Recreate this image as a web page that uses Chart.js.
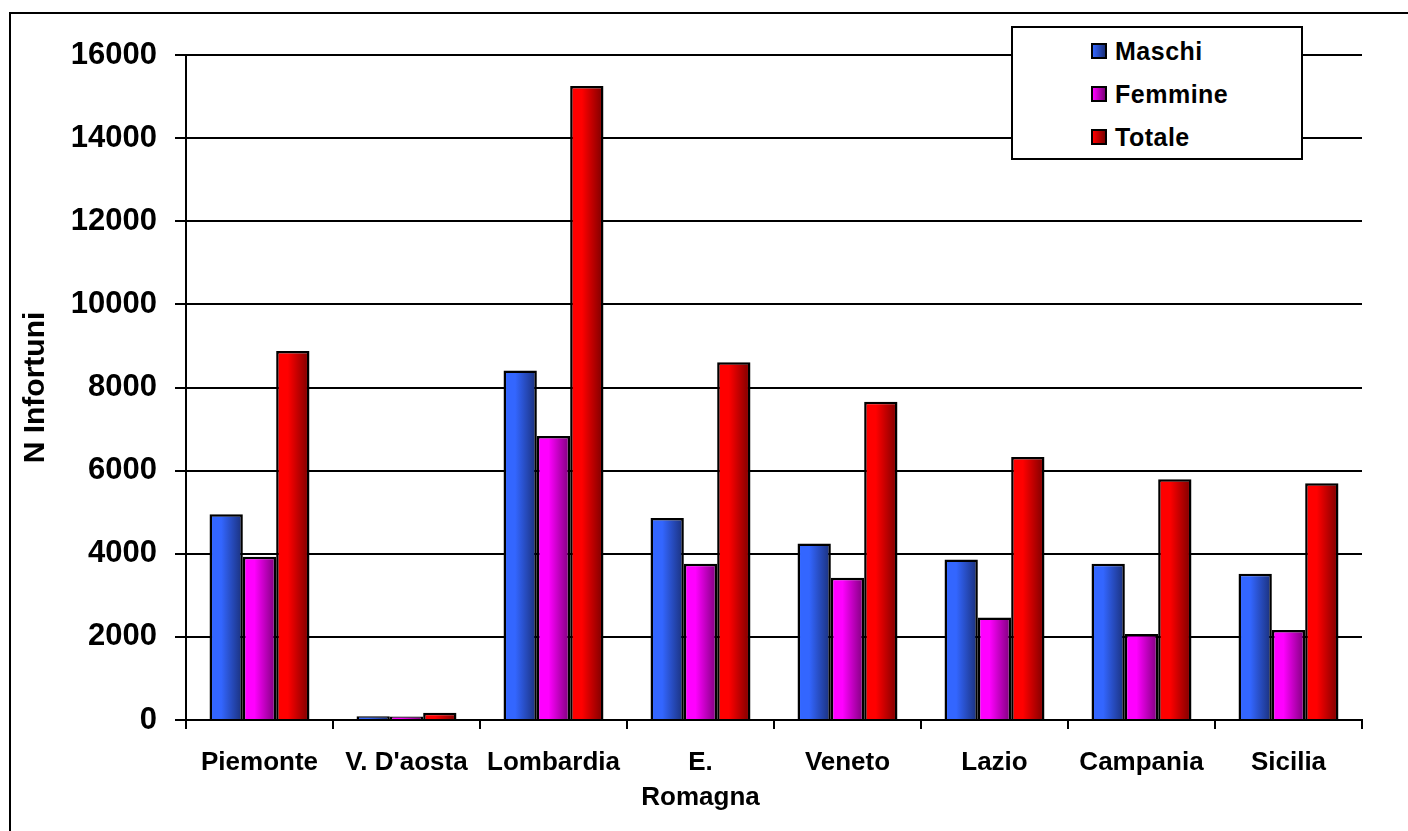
<!DOCTYPE html>
<html>
<head>
<meta charset="utf-8">
<script src="https://cdn.jsdelivr.net/npm/chart.js@4/dist/chart.umd.min.js"></script>
<style>
    html, body { margin: 0; padding: 0; background: #fff; overflow: hidden; }
    #wrap { position: relative; width: 1408px; height: 831px; }
    #frame {
        position: absolute; left: 9px; top: 12px; width: 1500px; height: 900px;
        border: 2px solid #000;
    }
    #chart { position: absolute; left: 0; top: 0; }
    #legend {
        position: absolute; left: 1011px; top: 26px; width: 288px; height: 130px;
        border: 2px solid #000; background: #fff;
        font: bold 25px "Liberation Sans", Arial, sans-serif; color: #000;
        letter-spacing: 0.5px;
    }
    .leg-item { position: absolute; left: 78px; height: 30px; line-height: 30px; }
    .leg-box {
        display: inline-block; width: 12px; height: 12px; border: 2px solid #000;
        vertical-align: middle; margin-right: 8px; position: relative; top: -2px;
    }
</style>
</head>
<body>
<div id="wrap">
    <div id="frame"></div>
    <canvas id="chart" width="1408" height="831"></canvas>
    <div id="legend"></div>
</div>
<script>
const regions = ['Piemonte', "V. D'aosta", 'Lombardia', ['E.', 'Romagna'], 'Veneto', 'Lazio', 'Campania', 'Sicilia'];
const seriesNames = ['Maschi', 'Femmine', 'Totale'];
const maschi = [4950, 90, 8410, 4860, 4245, 3860, 3760, 3520];
const femmine = [3930, 85, 6835, 3760, 3425, 2465, 2070, 2165];
const totale = [8880, 175, 15255, 8605, 7660, 6325, 5790, 5695];
const yTicks = [0, 2000, 4000, 6000, 8000, 10000, 12000, 14000, 16000];

const lightColors = ['#3366FF', '#FF00FF', '#FF0000'];
const darkColors = ['#1A2F78', '#7A0078', '#7A0000'];

const CAT_PCT = 0.68;
const FONT = '"Liberation Sans", Arial, sans-serif';

// horizontal gradient per bar, light on the left, dark on the right
function barGradient(c) {
    const light = lightColors[c.datasetIndex];
    const dark = darkColors[c.datasetIndex];
    const xScale = c.chart.scales.x;
    if (c.type !== 'data' || !xScale) return light;
    const catW = xScale.width / regions.length;
    const barW = catW * CAT_PCT / 3;
    const center = xScale.getPixelForValue(c.dataIndex);
    const left = center - catW * CAT_PCT / 2 + c.datasetIndex * barW;
    if (!isFinite(left) || !isFinite(barW) || barW <= 0) return light;
    const g = c.chart.ctx.createLinearGradient(left, 0, left + barW, 0);
    g.addColorStop(0, light);
    g.addColorStop(0.35, light);
    g.addColorStop(1, dark);
    return g;
}

function makeDataset(label, values) {
    return {
        label: label,
        data: values,
        backgroundColor: barGradient,
        borderColor: '#000',
        borderWidth: 2.5,
        borderSkipped: 'bottom',
        barPercentage: 1,
        categoryPercentage: CAT_PCT
    };
}

new Chart(document.getElementById('chart'), {
    type: 'bar',
    data: {
        labels: regions,
        datasets: [
            makeDataset(seriesNames[0], maschi),
            makeDataset(seriesNames[1], femmine),
            makeDataset(seriesNames[2], totale)
        ]
    },
    options: {
        responsive: false,
        animation: false,
        layout: { padding: { left: 10, top: 55, right: 46, bottom: 0 } },
        plugins: {
            legend: { display: false },
            tooltip: { enabled: false }
        },
        scales: {
            x: {
                afterFit: scale => { scale.height = 111; },
                border: { color: '#000', width: 2 },
                grid: {
                    drawOnChartArea: false,
                    color: '#000',
                    lineWidth: 2,
                    tickLength: 9
                },
                ticks: {
                    color: '#000',
                    padding: 17,
                    maxRotation: 0,
                    autoSkip: false,
                    font: { family: FONT, size: 26, weight: 'bold', lineHeight: 1.33 }
                }
            },
            y: {
                min: 0,
                max: 16000,
                afterFit: scale => { scale.width = 176; },
                afterBuildTicks: scale => { scale.ticks = yTicks.map(v => ({ value: v })); },
                border: { color: '#000', width: 2 },
                grid: { color: '#000', lineWidth: 2, tickLength: 11 },
                ticks: {
                    color: '#000',
                    padding: 18,
                    callback: value => String(value),
                    font: { family: FONT, size: 31, weight: 'bold' }
                },
                title: {
                    display: true,
                    text: 'N Infortuni',
                    color: '#000',
                    padding: { top: 8, bottom: 0 },
                    font: { family: FONT, size: 30, weight: 'bold' }
                }
            }
        }
    }
});

function buildLegend() {
    const box = document.getElementById('legend');
    seriesNames.forEach((name, i) => {
        const item = document.createElement('div');
        item.className = 'leg-item';
        item.style.top = (8 + i * 43) + 'px';
        item.innerHTML = `<span class="leg-box" style="background: linear-gradient(to right, ${lightColors[i]}, ${darkColors[i]});"></span>${name}`;
        box.appendChild(item);
    });
}

buildLegend();
</script>
</body>
</html>
